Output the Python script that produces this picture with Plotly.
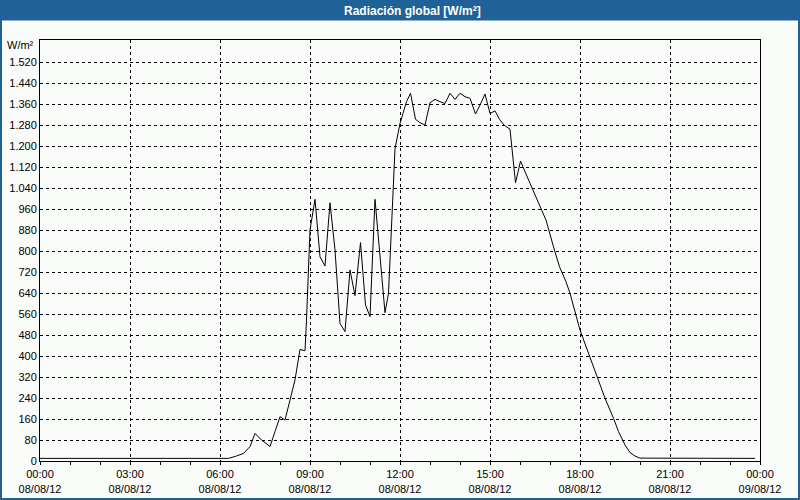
import plotly.graph_objects as go

times = ["00:00", "06:17", "06:33", "06:47", "07:00", "07:10", "07:23", "07:40", "07:50",
         "08:00", "08:10", "08:20", "08:30", "08:40", "08:50", "08:53", "09:00", "09:10",
         "09:20", "09:30", "09:40", "09:50", "10:00", "10:10", "10:20", "10:30", "10:41",
         "10:51", "11:00", "11:10", "11:20", "11:30", "11:37", "11:50", "12:00", "12:13",
         "12:21", "12:31", "12:40", "12:50", "13:00", "13:10", "13:20", "13:30", "13:40",
         "13:50", "14:00", "14:10", "14:20", "14:31", "14:40", "14:50", "15:00", "15:10",
         "15:19", "15:28", "15:40", "15:47", "15:51", "15:57", "16:01", "16:20", "16:40",
         "16:52", "17:07", "17:19", "17:32", "17:40", "18:00", "18:17", "18:33", "18:50",
         "19:07", "19:17", "19:30", "19:40", "19:50", "20:00", "23:50"]
radiation = [10, 10, 19, 29, 55, 105, 80, 55, 112,
             169, 156, 232, 309, 425, 420, 537, 880, 997,
             778, 743, 984, 804, 524, 493, 728, 630, 832,
             594, 550, 997, 778, 565, 639, 1190, 1286, 1369,
             1401, 1302, 1289, 1280, 1365, 1378, 1369, 1362, 1401,
             1378, 1401, 1388, 1382, 1322, 1356, 1398, 1324, 1334,
             1302, 1280, 1264, 1134, 1060, 1109, 1143, 1058, 969,
             918, 816, 740, 683, 639, 499, 410, 321, 239,
             163, 112, 61, 32, 19, 11, 10]
y_ticks = [0, 80, 160, 240, 320, 400, 480, 560, 640, 720, 800, 880, 960, 1040,
           1120, 1200, 1280, 1360, 1440, 1520]
date = "2012-08-08"
x_vals = [f"{date} {t}" for t in times]

title_text = "Radiación global [W/m²]"
unit_text = "W/m²"
blue = "#1e6297"
bg = "#fafcfa"
font_fam = "Liberation Sans"

fig = go.Figure()
fig.add_trace(go.Scatter(x=x_vals, y=radiation, mode="lines",
                         line=dict(color="black", width=1), hoverinfo="skip"))

W, H = 800, 500
ml, mr, mt, mb = 40, 40, 40, 39
pw, ph = W - ml - mr, H - mt - mb

def px_x(x):
    return (x - ml) / pw

def px_y(y):
    return (H - mb - y) / ph

shapes = [
    dict(type="rect", xref="paper", yref="paper", x0=px_x(0), x1=px_x(W), y0=px_y(20.5), y1=px_y(0),
         fillcolor=blue, line=dict(width=0), layer="above"),
    dict(type="rect", xref="paper", yref="paper", x0=px_x(0), x1=px_x(2), y0=px_y(H), y1=px_y(0),
         fillcolor=blue, line=dict(width=0)),
    dict(type="rect", xref="paper", yref="paper", x0=px_x(W - 2), x1=px_x(W), y0=px_y(H), y1=px_y(0),
         fillcolor=blue, line=dict(width=0)),
    dict(type="rect", xref="paper", yref="paper", x0=px_x(0), x1=px_x(W), y0=px_y(H), y1=px_y(H - 2),
         fillcolor=blue, line=dict(width=0)),
]

fig.update_layout(
    width=W, height=H,
    margin=dict(l=ml, r=mr, t=mt, b=mb, pad=0, autoexpand=False),
    paper_bgcolor=bg, plot_bgcolor=bg,
    showlegend=False,
    separators=",.",
    font=dict(family=font_fam, size=11, color="black"),
    shapes=shapes,
    annotations=[
        dict(text=f"<b>{title_text}</b>", xref="paper", yref="paper", x=px_x(412), y=px_y(10.5),
             xanchor="center", yanchor="middle", showarrow=False,
             font=dict(family=font_fam, size=12, color="white")),
        dict(text=unit_text, xref="paper", yref="paper", x=px_x(36), y=px_y(45),
             xanchor="right", yanchor="middle", showarrow=False,
             font=dict(family=font_fam, size=11, color="black")),
    ],
    xaxis=dict(
        type="date", automargin=False,
        range=["2012-08-08 00:00", "2012-08-09 00:00"],
        tickmode="linear", tick0="2012-08-08 00:00", dtick=3 * 3600 * 1000,
        tickformat="%H:%M<br>%d/%m/%y",
        showgrid=True, gridcolor="black", gridwidth=1, griddash="3px,3px",
        showline=True, linecolor="black", linewidth=1, mirror=True,
        ticks="outside", ticklen=3, tickcolor="black",
        minor=dict(dtick=3600 * 1000, ticks="outside", ticklen=3, tickcolor="black", showgrid=False),
        zeroline=False, fixedrange=True,
    ),
    yaxis=dict(
        automargin=False,
        range=[0, 1604],
        tickmode="array", tickvals=y_ticks,
        tickformat=",d",
        showgrid=True, gridcolor="black", gridwidth=1, griddash="3px,3px",
        showline=True, linecolor="black", linewidth=1, mirror=True,
        ticks="", ticklen=0,
        zeroline=False, fixedrange=True,
    ),
)

fig.write_html("out.html")
